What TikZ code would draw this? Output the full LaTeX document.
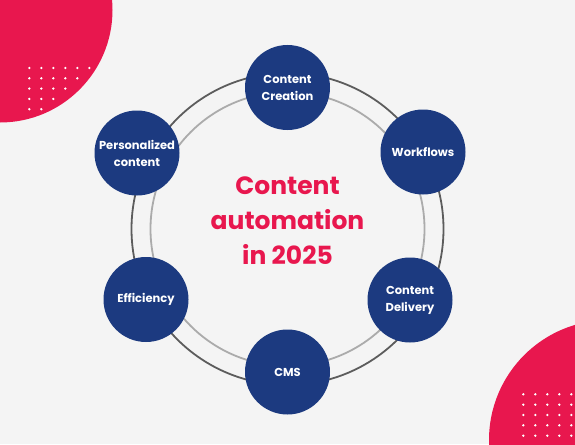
\documentclass[tikz,border=0pt]{standalone}
\usepackage{fontspec}
\setmainfont{Poppins}
\definecolor{bgcol}{HTML}{F4F4F4}
\definecolor{accent}{HTML}{E8174E}
\definecolor{navy}{HTML}{1C3A80}
\definecolor{ringdark}{HTML}{5C5C5C}
\definecolor{ringlight}{HTML}{ABABAB}

\begin{document}
\begin{tikzpicture}[x=1pt, y=-1pt]

\tikzstyle{topic}=[circle, fill=navy, minimum size=85pt, inner sep=0pt, text=white, align=center, font=\fontsize{11.5}{17}\selectfont\bfseries]
\tikzstyle{title}=[text=accent, align=center, font=\fontsize{25}{35}\selectfont\bfseries]
\tikzstyle{blob}=[fill=accent]
\tikzstyle{dot}=[fill=white]
\tikzstyle{ring}=[line width=1.8pt]

% background
\fill [bgcol] (0,0) rectangle (575,444);
\useasboundingbox (0,0) rectangle (575,444);

% corner blobs
\fill [blob] (0,10) circle (112.5);
\fill [blob] (609,440) circle (120);
\foreach \j in {0,...,4}
{
	\pgfmathtruncatemacro\n{5-\j}
	\foreach \i in {0,...,\n}
		\fill [dot] (29.3+12*\i, 68+10.3*\j) circle (1.3);
}
\foreach \j in {0,...,4}
	\foreach \i in {0,...,4}
		\fill [dot] (523.3+12*\i, 394.3+10.35*\j) circle (1.3);

% rings
\draw [ring, ringdark] (287.5,229) circle (156);
\draw [ring, ringlight] (287.5,229) circle (137);

% topics
\node [topic] (creation) at (287.5, 87.5) {Content\\Creation};
\node [topic] (workflows) at (423, 152) {Workflows};
\node [topic] (delivery) at (410, 300) {Content\\Delivery};
\node [topic] (cms) at (287.5, 372) {CMS};
\node [topic] (efficiency) at (146, 299.5) {Efficiency};
\node [topic] (personal) at (137, 153) {Personalized\\content};

% centre
\node [title] (heading) at (287.5, 221) {Content\\automation\\in 2025};

\end{tikzpicture}
\end{document}
